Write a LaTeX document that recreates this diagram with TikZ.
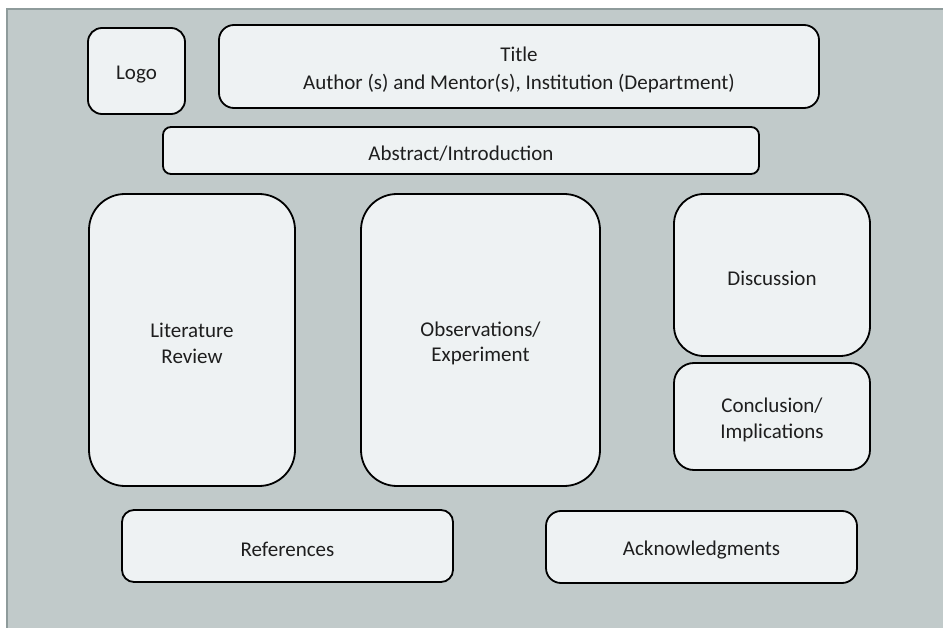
\documentclass[tikz,border=0pt]{standalone}
\usepackage{fontspec}
\setmainfont{Carlito}
\definecolor{bggray}{HTML}{C1CACA}
\definecolor{framegray}{HTML}{8E9B9B}
\definecolor{boxfill}{HTML}{EEF2F3}
\definecolor{txt}{HTML}{1E1E1E}
\begin{document}
\begin{tikzpicture}[x=1pt,y=-1pt,
  panel/.style={draw=black, fill=boxfill, line width=1.8pt, inner sep=0pt, outer sep=0pt},
  paneltext/.style={text=txt, font=\fontsize{21}{25.5}\selectfont, align=center, inner sep=0pt},
]
\useasboundingbox (0,0) rectangle (943,628);
\fill[white] (0,0) rectangle (943,628);
\fill[bggray] (7,9) rectangle (943,628);
\draw[framegray, line width=2pt] (7,628) -- (7,9) -- (943,9);
\newcommand{\panelbox}[7]{%
  \node[panel, rounded corners=#5, minimum width={#3-#1}, minimum height={#4-#2}]
    (#6) at ({(#1+#3)/2},{(#2+#4)/2}) {};
  \node[paneltext] (#6-text) at ([yshift=-3.5pt]#6.center) {#7};}
\panelbox{88}{28}{185}{114}{14pt}{logo}{Logo}
\panelbox{219}{25}{819}{108}{15pt}{title}{Title\\[3pt]Author (s) and Mentor(s), Institution (Department)}
\panelbox{163}{127}{759}{174}{8pt}{abstract}{Abstract/Introduction}
\panelbox{89}{194}{295}{486}{36pt}{litrev}{Literature\\Review}
\panelbox{361}{194}{600}{486}{36pt}{obs}{Observations/\\Experiment}
\panelbox{674}{194}{870}{356}{30pt}{disc}{Discussion}
\panelbox{674}{363}{870}{470}{20pt}{concl}{Conclusion/\\Implications}
\panelbox{122}{510}{453}{582}{12pt}{refs}{References}
\panelbox{546}{511}{857}{583}{15pt}{ack}{Acknowledgments}
\end{tikzpicture}
\end{document}
